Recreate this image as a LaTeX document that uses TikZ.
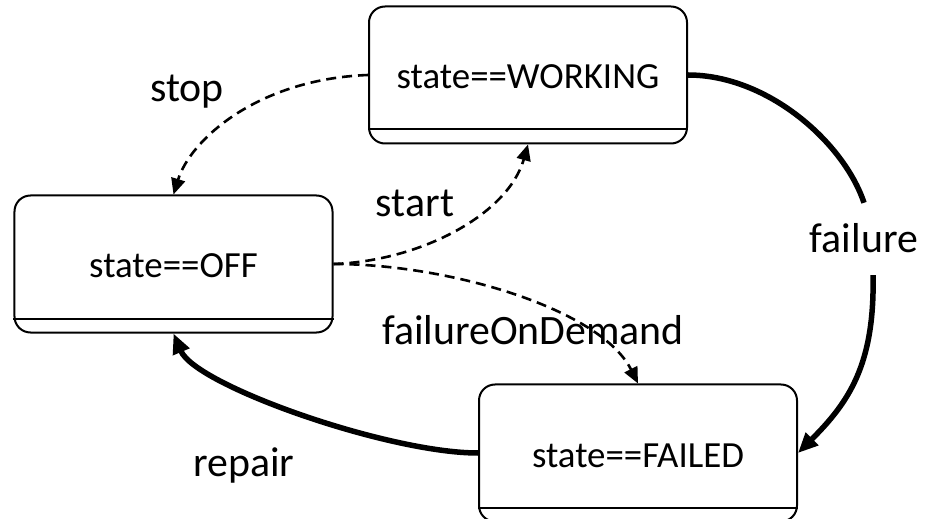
\documentclass[tikz,border=0pt]{standalone}
\usepackage{fontspec}
\setmainfont{Carlito}
\usetikzlibrary{arrows.meta,calc}
\begin{document}
\begin{tikzpicture}[x=1bp,y=-1bp,
  statebox/.style={draw, line width=2bp, rounded corners=16bp,
    minimum width=318bp, minimum height=137bp, inner sep=0pt,
    font=\fontsize{37}{44}\selectfont, text height=28bp, text depth=0pt},
  lbl/.style={font=\fontsize{42}{50}\selectfont, inner sep=0pt},
  divider/.style={line width=2bp},
  soft/.style={line width=2.6bp, dash pattern=on 10bp off 6bp,
    -{Triangle[length=16bp,width=14bp]}},
  hard/.style={line width=5.5bp, -{Triangle[length=20bp,width=17bp]}}]

\useasboundingbox (0,0) rectangle (934,519);
\clip (0,0) rectangle (934,519);

% states
\node[statebox] (W) at (528,75)  {state==WORKING};
\node[statebox] (O) at (173.5,264) {state==OFF};
\node[statebox] (F) at (638,453) {state==FAILED};

% compartment lines near the bottom of each state
\foreach \s in {W,O,F}
  \draw[divider] ($(\s.south west)+(0,-15)$) -- ($(\s.south east)+(0,-15)$);

% transition labels
\node[lbl, anchor=base] (lstop)  at (187,102) {stop};
\node[lbl, anchor=base] (lstart) at (415,217) {start};
\node[lbl, anchor=base] (lfod)   at (533,345) {failureOnDemand};
\node[lbl, anchor=base] (lrep)   at (244,476) {repair};
\node[lbl, minimum height=72bp, text height=28bp, text depth=0pt] (lfail) at (864,239) {failure};

% dashed transitions
\draw[soft] (W.west) .. controls +(-110,4) and +(17,-55) .. (O.north);
\draw[soft] (O.east) .. controls +(87,-3) and +(-20,70) .. (W.south);
\draw[soft] (O.east) .. controls +(117,0) and +(-37,-74) .. (F.north);

% solid transitions
\draw[line width=5.5bp] (W.east) .. controls +(80,0) and +(-20,-60) .. (lfail.north);
\draw[hard] ([xshift=9bp]lfail.south) .. controls +(2,90) and +(50,-50) .. (F.east);
\draw[hard] (F.west) .. controls +(-90,0) and +(22,52) .. (O.south);

\end{tikzpicture}
\end{document}
